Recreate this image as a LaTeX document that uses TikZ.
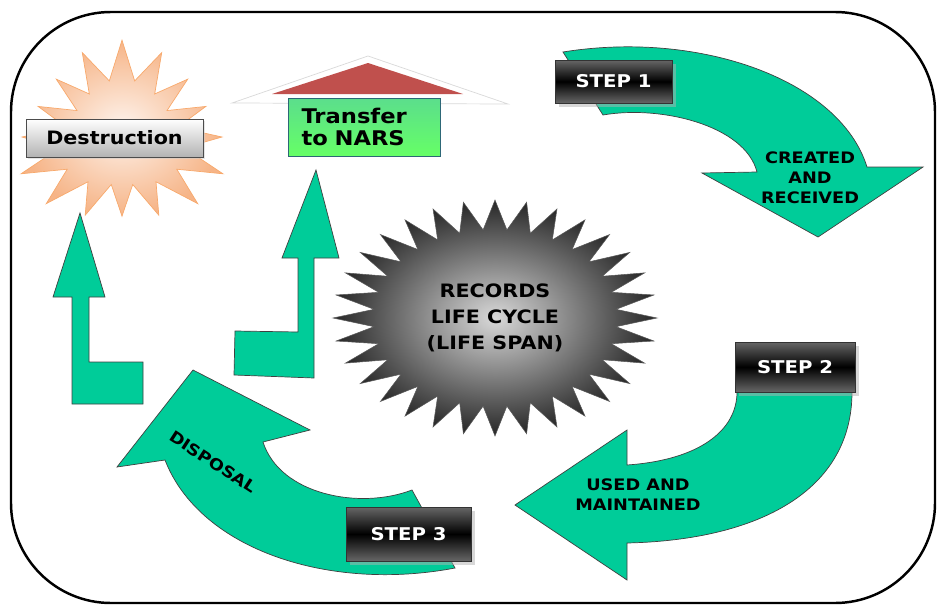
\documentclass[tikz,border=0pt]{standalone}
\usepackage{fontspec}
\setmainfont{DejaVu Sans}
\newfontfamily\heavyfont[FakeStretch=1.12]{DejaVu Sans Bold}
\usetikzlibrary{shadows}

\definecolor{cycgreen}{RGB}{0,204,153}
\definecolor{peach}{RGB}{246,180,135}
\definecolor{roofred}{RGB}{192,80,77}
\definecolor{narsblue}{RGB}{75,172,198}
\definecolor{narsgreen}{RGB}{102,255,102}

\tikzset{
  cyclearrow/.style={fill=cycgreen, draw=black!75, line width=0.4pt},
  stepbox/.style={draw=black!80, line width=0.4pt, top color=gray!80!black, bottom color=gray!80!black,
    middle color=black, text=white, font=\heavyfont\fontsize{10}{12}\selectfont,
    drop shadow={fill=gray!60, shadow xshift=2pt, shadow yshift=-2pt}},
  arrowtext/.style={font=\heavyfont\fontsize{9}{11.5}\selectfont, align=center, text=black},
}

\begin{document}
\begin{tikzpicture}[x=0.02cm, y=-0.02cm]
\useasboundingbox (0,0) rectangle (937,605);

% frame
\draw[line width=1.4pt, rounded corners=2cm] (11,12) rectangle (935,603);

% Destruction burst
\shade[inner color=white!85!peach, outer color=peach, draw=peach!80!orange, line width=0.4pt]
  plot[domain=0:360, samples=33, variable=\t]
  ({122 + 100*(1-0.4*mod(round(\t/11.25),2))*(1+0.1*sin(3*\t))*cos(\t)},
   {137 + 88*(1-0.4*mod(round(\t/11.25),2))*(1+0.1*sin(3*\t))*sin(\t)}) -- cycle;
\node[draw=gray!60!black, top color=white, bottom color=gray!60, minimum width=3.54cm, minimum height=0.76cm,
  font=\heavyfont\fontsize{10.5}{13}\selectfont, drop shadow={fill=gray!40, shadow xshift=1pt, shadow yshift=-1pt}]
  (destr) at (114.5,138) {Destruction};

% upward arrows
\draw[cyclearrow] (80,213) -- (105,297) -- (89,297) -- (89,362) -- (143,362) -- (143,404)
  -- (72,404) -- (72,297) -- (53,297) -- cycle;
\draw[cyclearrow] (316,170) -- (339,258) -- (314,258) -- (314,378) -- (234,375) -- (235,331)
  -- (298,332) -- (298,258) -- (282,258) -- cycle;

% Transfer to NARS
\fill[white, draw=gray!30] (232,103) -- (368,56) -- (508,104) -- cycle;
\fill[roofred] (272,94) -- (368,63) -- (463,94) -- cycle;
\node[draw=narsblue!60!black, top color=narsgreen!60!narsblue, middle color=narsblue, bottom color=narsgreen,
  minimum width=3.04cm, minimum height=1.16cm, text width=2.5cm, inner xsep=0.27cm, align=left,
  font=\heavyfont\fontsize{11.5}{13}\selectfont] (nars) at (364,127) {Transfer\\to NARS};

% records life cycle
\shade[inner color=gray!30, outer color=black!85, draw=gray!70!black, line width=0.3pt]
  plot[domain=0:360, samples=65, variable=\t]
  ({495 + 162*(1-0.25*mod(round(\t/5.625),2))*cos(\t)},
   {318 + 118*(1-0.25*mod(round(\t/5.625),2))*sin(\t)}) -- cycle;
\node[font=\heavyfont\fontsize{10.5}{15}\selectfont, align=center] (core) at (495,318)
  {RECORDS\\LIFE CYCLE\\(LIFE SPAN)};

% step 1
\draw[cyclearrow] (563,52) .. controls (700,30) and (840,80) .. (867,167) -- (923,167) -- (818,237)
  -- (702,173) -- (757,172) .. controls (745,125) and (660,105) .. (603,115) -- cycle;
\node[stepbox, minimum width=2.34cm, minimum height=0.86cm] (step1) at (613.5,81.5) {STEP 1};
\node[arrowtext] (created) at (810,178) {CREATED\\AND\\RECEIVED};

% step 2
\draw[cyclearrow] (852,392) .. controls (852,490) and (760,540) .. (627,543) -- (627,580) -- (515,505)
  -- (627,430) -- (627,465) .. controls (700,460) and (737,430) .. (737,392) -- cycle;
\node[stepbox, minimum width=2.4cm, minimum height=1cm] (step2) at (795,367) {STEP 2};
\node[arrowtext] (used) at (638,495) {USED AND\\MAINTAINED};

% step 3
\draw[cyclearrow] (455,568) .. controls (330,592) and (200,550) .. (165,460) -- (117,467) -- (193,370)
  -- (310,430) -- (263,442) .. controls (280,495) and (360,510) .. (412,490) -- cycle;
\node[stepbox, minimum width=2.5cm, minimum height=1.08cm] (step3) at (408.5,534) {STEP 3};
\node[arrowtext, rotate=-33] (disposal) at (213,462) {DISPOSAL};
\end{tikzpicture}
\end{document}
